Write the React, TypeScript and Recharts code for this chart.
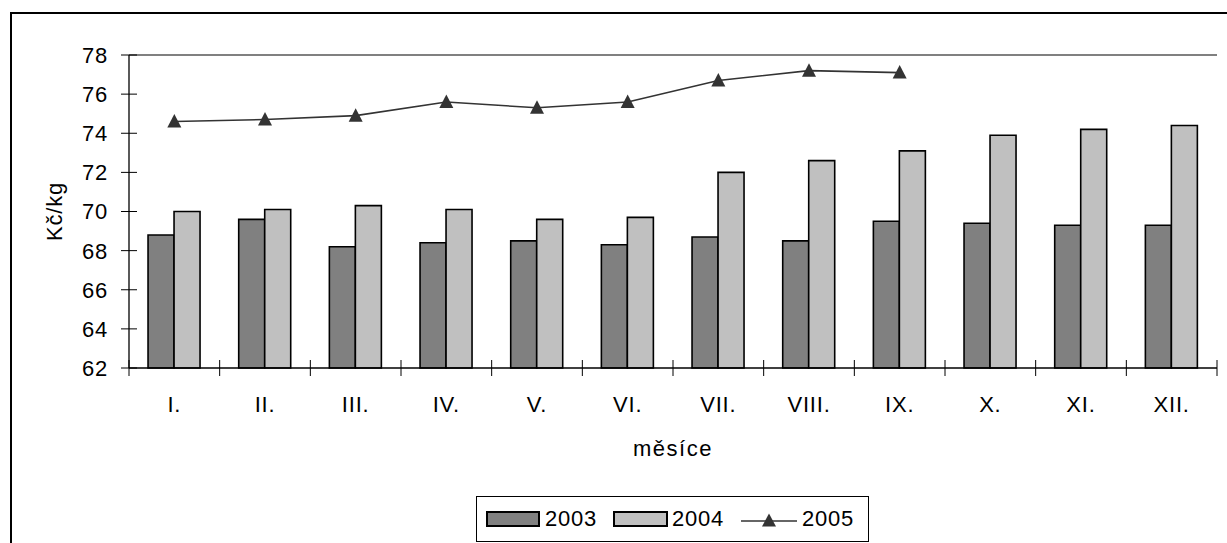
import React from 'react';
import {
  ComposedChart, Bar, Line, XAxis, YAxis, ReferenceLine, Legend,
} from 'recharts';

const months = ['I.', 'II.', 'III.', 'IV.', 'V.', 'VI.', 'VII.', 'VIII.', 'IX.', 'X.', 'XI.', 'XII.'];
const v2003 = [68.8, 69.6, 68.2, 68.4, 68.5, 68.3, 68.7, 68.5, 69.5, 69.4, 69.3, 69.3];
const v2004 = [70.0, 70.1, 70.3, 70.1, 69.6, 69.7, 72.0, 72.6, 73.1, 73.9, 74.2, 74.4];
const v2005 = [74.6, 74.7, 74.9, 75.6, 75.3, 75.6, 76.7, 77.2, 77.1, null, null, null];
const yTicks = [62, 64, 66, 68, 70, 72, 74, 76, 78];

const FONT = '"Liberation Sans", Arial, sans-serif';
const FS = 22;
const LS = 0.8;
const DARK = '#808080';
const LIGHT = '#C0C0C0';
const LINE = '#333333';

const Triangle = (props: any) => {
  const { cx, cy } = props;
  if (cx == null || cy == null) return <g />;
  return <path d={`M${cx},${cy - 7.5} L${cx + 7},${cy + 6} L${cx - 7},${cy + 6} Z`} fill={LINE} />;
};

const MonthTick = (props: any) => {
  const { x, y, payload, index } = props;
  const half = payload.offset ?? 45.3;
  return (
    <g>
      <line x1={x - half} x2={x - half} y1={y - 8} y2={y + 8} stroke="#000" />
      {index === months.length - 1 && (
        <line x1={x + half} x2={x + half} y1={y - 8} y2={y + 8} stroke="#000" />
      )}
      <text x={x} y={y + 44} textAnchor="middle" fill="#000" fontSize={FS} letterSpacing={LS} fontFamily={FONT}>
        {payload.value}
      </text>
    </g>
  );
};

const ValueTick = (props: any) => {
  const { x, y, payload } = props;
  return (
    <g>
      <line x1={x - 8} x2={x + 8} y1={y} y2={y} stroke="#000" />
      <text x={x - 21} y={y} dy="0.36em" textAnchor="end" fill="#000" fontSize={FS} letterSpacing={LS} fontFamily={FONT}>
        {payload.value}
      </text>
    </g>
  );
};

const renderLegend = () => (
  <div style={{
    width: 393, height: 46, border: '1.5px solid #000', boxSizing: 'border-box',
    display: 'flex', alignItems: 'center', paddingLeft: 9, fontFamily: FONT, fontSize: FS,
    letterSpacing: LS, color: '#000',
  }}>
    <span style={{ width: 54, height: 16, background: DARK, border: '2px solid #000', boxSizing: 'border-box' }} />
    <span style={{ marginLeft: 5, width: 68 }}>2003</span>
    <span style={{ width: 55, height: 16, background: LIGHT, border: '2px solid #000', boxSizing: 'border-box' }} />
    <span style={{ marginLeft: 4, width: 69 }}>2004</span>
    <svg width={56} height={20}>
      <line x1={0} x2={56} y1={12} y2={12} stroke={LINE} strokeWidth={1.5} />
      <path d="M28,4.5 L35,17.5 L21,17.5 Z" fill={LINE} />
    </svg>
    <span style={{ marginLeft: 5 }}>2005</span>
  </div>
);

export default function App() {
  const data = months.map((m, i) => ({ month: m, y2003: v2003[i], y2004: v2004[i], y2005: v2005[i] }));
  return (
    <div style={{ position: 'absolute', left: 0, top: 0, width: 1227, height: 543, overflow: 'hidden', background: '#fff' }}>
      <div style={{ position: 'absolute', left: 10, top: 12, width: 1260, height: 600, border: '2px solid #000', boxSizing: 'border-box' }} />
      <div style={{ position: 'absolute', left: 0, top: 0 }}>
        <ComposedChart
          width={1227}
          height={543}
          data={data}
          margin={{ top: 55, right: 10, bottom: 115, left: 60 }}
          barCategoryGap="21%"
          barGap={0}
        >
          <XAxis
            dataKey="month"
            height={60}
            interval={0}
            tickLine={false}
            tickSize={0}
            tickMargin={0}
            axisLine={{ stroke: '#000', strokeWidth: 1.3 }}
            tick={<MonthTick />}
            label={{
              content: (p: any) => {
                const vb = p.viewBox;
                return (
                  <text x={vb.x + vb.width / 2} y={vb.y + 88} textAnchor="middle" fill="#000" fontSize={FS} letterSpacing={1.5} fontFamily={FONT}>
                    měsíce
                  </text>
                );
              },
            }}
          />
          <YAxis
            width={69}
            domain={[62, 78]}
            ticks={yTicks}
            interval={0}
            tickLine={false}
            tickSize={0}
            tickMargin={0}
            axisLine={{ stroke: '#000', strokeWidth: 1.3 }}
            tick={<ValueTick />}
            label={{
              content: (p: any) => {
                const vb = p.viewBox;
                const cy = vb.y + vb.height / 2;
                return (
                  <text x={62} y={cy} transform={`rotate(-90 62 ${cy})`} textAnchor="middle" fill="#000" fontSize={FS} letterSpacing={LS} fontFamily={FONT}>
                    Kč/kg
                  </text>
                );
              },
            }}
          />
          <YAxis
            yAxisId="r"
            orientation="right"
            width={0}
            domain={[62, 78]}
            tick={false}
            tickLine={false}
            axisLine={{ stroke: '#808080', strokeWidth: 2 }}
          />
          <ReferenceLine y={78} stroke="#808080" strokeWidth={2} />
          <Bar dataKey="y2003" name="2003" fill={DARK} stroke="#000" strokeWidth={1.6} isAnimationActive={false} />
          <Bar dataKey="y2004" name="2004" fill={LIGHT} stroke="#000" strokeWidth={1.6} isAnimationActive={false} />
          <Line
            dataKey="y2005"
            name="2005"
            stroke={LINE}
            strokeWidth={1.6}
            dot={<Triangle />}
            activeDot={false}
            connectNulls={false}
            isAnimationActive={false}
          />
          <Legend
            layout="vertical"
            align="center"
            verticalAlign="middle"
            wrapperStyle={{ left: 476, top: 496, width: 393, height: 46 }}
            content={renderLegend}
          />
        </ComposedChart>
      </div>
    </div>
  );
}
